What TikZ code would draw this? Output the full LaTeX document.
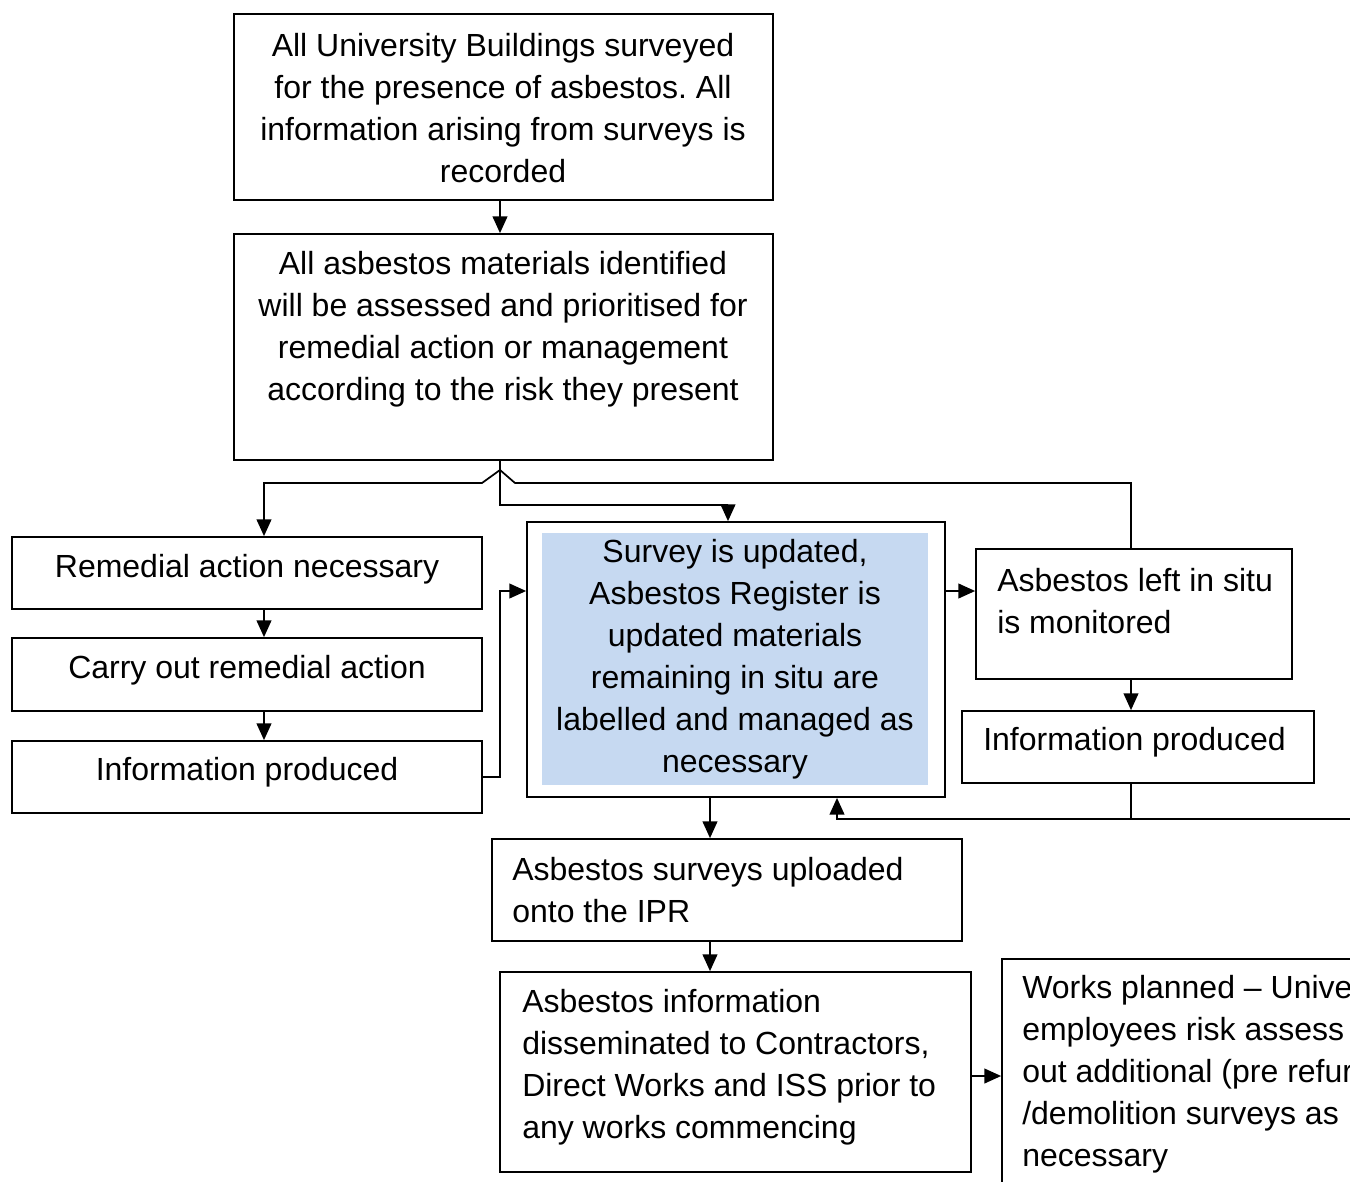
\documentclass[tikz,border=0pt]{standalone}
\usepackage{fontspec}
\setmainfont{Liberation Sans}
\usetikzlibrary{arrows.meta,calc}
\definecolor{fillblue}{HTML}{C6D9F1}
\frenchspacing
\begin{document}
\begin{tikzpicture}[x=0.75pt,y=-0.75pt,
  box/.style={draw=black, line width=1.3pt, rectangle, inner sep=0pt, fill=white},
  txt/.style={inner sep=0pt, font=\fontsize{24}{31.5}\selectfont},
  conn/.style={line width=1.3pt},
  arr/.style={conn, -{Triangle[length=12.5pt,width=11pt]}},
]
\useasboundingbox (0,0) rectangle (1350,1182);
\clip (0,0) rectangle (1350,1182);

% boxes
\node[box, minimum width=539*0.75pt, minimum height=186*0.75pt] (b1) at (503.5,107) {};
\node[box, minimum width=539*0.75pt, minimum height=226*0.75pt] (b2) at (503.5,347) {};
\node[box, minimum width=418*0.75pt, minimum height=275*0.75pt] (b3) at (736,659.5) {};
\node[fill=fillblue, inner sep=0pt, minimum width=386*0.75pt, minimum height=252*0.75pt] (b3in) at (735,659) {};
\node[box, minimum width=470*0.75pt, minimum height=72*0.75pt] (rem) at (247,573) {};
\node[box, minimum width=470*0.75pt, minimum height=73*0.75pt] (carry) at (247,674.5) {};
\node[box, minimum width=470*0.75pt, minimum height=72*0.75pt] (infl) at (247,777) {};
\node[box, minimum width=316*0.75pt, minimum height=130*0.75pt] (lis) at (1134,614) {};
\node[box, minimum width=352*0.75pt, minimum height=72*0.75pt] (inr) at (1138,747) {};
\node[box, minimum width=470*0.75pt, minimum height=102*0.75pt] (ipr) at (727,890) {};
\node[box, minimum width=471*0.75pt, minimum height=200*0.75pt] (dis) at (735.5,1072) {};
\node[box, minimum width=498*0.75pt, minimum height=341*0.75pt] (works) at (1251,1129.5) {};

% texts
\node[txt, align=center] (b1t) at (503,108) {All University Buildings surveyed\\for the presence of asbestos. All\\information arising from surveys is\\recorded};
\node[txt, align=center] (b2t) at (503,329) {All asbestos materials identified\\will be assessed and prioritised for\\remedial action or management\\according to the risk they present};
\node[txt, align=center] (b3t) at (735,659) {Survey is updated,\\Asbestos Register is\\updated materials\\remaining in situ are\\labelled and managed as\\necessary};
\node[txt] (remt) at (247,569) {Remedial action necessary};
\node[txt] (carryt) at (247,670) {Carry out remedial action};
\node[txt] (inflt) at (247,772) {Information produced};
\node[txt, align=left, anchor=west] (list) at (997,601) {Asbestos left in situ\\is monitored};
\node[txt, anchor=west] (inrt) at (983,742) {Information produced};
\node[txt, align=left, anchor=west] (iprt) at (512,890) {Asbestos surveys uploaded\\onto the IPR};
\node[txt, align=left, anchor=west] (dist) at (522,1067) {Asbestos information\\disseminated to Contractors,\\Direct Works and ISS prior to\\any works commencing};
\node[txt, align=left, anchor=west] (workst) at (1022,1074) {Works planned -- Unive\\employees risk assess\\out additional (pre refur\\/demolition surveys as\\necessary};

% helper coordinates
\coordinate (jp) at (500,470);
\coordinate (k1) at (500,505);
\coordinate (jl) at (482,483);
\coordinate (jr) at (515,483);
\coordinate (j2) at (1131,819);
\coordinate (offr) at (1360,819);
\coordinate (ly) at (500,591);
\coordinate (wy) at (0,1076);
\coordinate (mx) at (710,0);

% connectors
\draw[arr] (b1.south -| jp) -- (b2.north -| jp);
\draw[arr] (b2.south -| jp) -- (k1) -| ($(b3.north)+(-8,0)$);
\draw[arr] (jp) -- (jl) -| ($(rem.north)+(17,0)$);
\draw[conn] (jp) -- (jr) -| (lis.north -| j2);
\draw[arr] ($(rem.south)+(17,0)$) -- ($(carry.north)+(17,0)$);
\draw[arr] ($(carry.south)+(17,0)$) -- ($(infl.north)+(17,0)$);
\draw[arr] (infl.east) -| (ly) -- (b3.west |- ly);
\draw[arr] (b3.east |- ly) -- (lis.west |- ly);
\draw[arr] (lis.south -| j2) -- (inr.north -| j2);
\draw[arr] (inr.south -| j2) -- (j2) -| ($(b3.south)+(101,0)$);
\draw[conn] (offr) -- (j2);
\draw[arr] (b3.south -| mx) -- (ipr.north -| mx);
\draw[arr] (ipr.south -| mx) -- (dis.north -| mx);
\draw[arr] (dis.east |- wy) -- (works.west |- wy);
\end{tikzpicture}
\end{document}
